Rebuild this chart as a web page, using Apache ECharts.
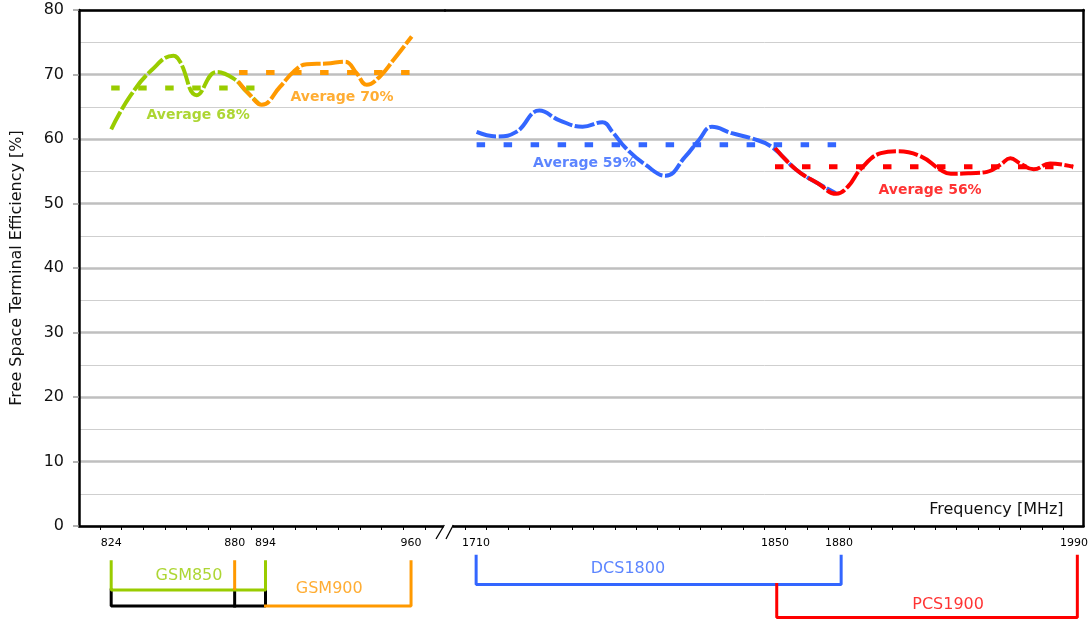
<!DOCTYPE html>
<html><head><meta charset="utf-8">
<script src="https://cdn.jsdelivr.net/npm/echarts@6/dist/echarts.min.js"></script>
<style>html,body{margin:0;padding:0;background:#fff}#c{width:1091px;height:619px}</style>
</head><body><div id="c"></div>
<script>
// ---------------- data ----------------
const gsm850Freq = [824, 832.5, 842.4, 852.2, 855.2, 862.8, 871.8, 879.4, 885.5, 891.5];
const gsm850Eff  = [61.5, 66.6, 70.7, 72.9, 72.0, 66.8, 70.4, 69.4, 67.3, 65.3];
const gsm900Freq = [881.6, 887.0, 892.3, 900.6, 906.6, 912.7, 921.7, 930.0, 935.3, 939.9, 945.9, 951.9, 960.3];
const gsm900Eff  = [68.9, 66.8, 65.3, 68.1, 70.4, 71.6, 71.7, 72.0, 70.2, 68.4, 69.7, 72.2, 75.9];
const dcsFreq = [1710.3, 1719.6, 1728.9, 1739.7, 1749.1, 1759.9, 1769.2, 1773.9, 1780.1, 1789.4, 1798.8, 1808.1, 1814.3, 1820.5, 1829.8, 1839.1, 1848.4, 1860.1, 1870.2, 1878.5];
const dcsEff  = [61.1, 60.4, 61.1, 64.4, 62.9, 61.9, 62.6, 61.1, 58.6, 56.0, 54.3, 57.3, 59.8, 61.9, 60.9, 60.1, 58.8, 55.2, 53.1, 51.6];
const pcsFreq = [1850.0, 1860.1, 1870.2, 1878.7, 1884.1, 1890.3, 1899.6, 1907.4, 1918.3, 1927.6, 1932.3, 1941.6, 1949.3, 1955.5, 1960.2, 1964.8, 1971.1, 1978.8, 1989.7];
const pcsEff  = [58.6, 55.2, 53.1, 51.5, 52.6, 55.4, 57.8, 58.1, 57.3, 55.2, 54.6, 54.7, 54.9, 56.0, 57.0, 56.2, 55.3, 56.2, 55.7];

const bandNames = ['GSM850', 'GSM900', 'DCS1800', 'PCS1900'];
const bandLow   = [824, 880, 1710, 1850];
const bandHigh  = [894, 960, 1880, 1990];
const avgValue  = [67.9, 70.3, 59.1, 55.7];
const avgFrom   = [824, 882, 1710.3, 1850];
const avgTo     = [889, 960.4, 1879.5, 1989.4];

const lowTickLabels  = [824, 880, 894, 960];
const highTickLabels = [1710, 1850, 1880, 1990];
const lowTicks  = [818.9, 828.7, 838.5, 848.4, 858.2, 868.0, 877.9, 887.7, 897.5, 907.3, 917.2, 927.0, 936.8, 946.7, 956.5, 966.3];
const highTicks = [1705,1715,1725,1735,1745,1755,1765,1775,1785,1795,1805,1815,1825,1835,1845,1855,1865,1875,1885,1895,1905,1915,1925,1935,1945,1955,1965,1975,1985];

// ---------------- layout / style ----------------
const colors = ['#99cc00', '#ff9900', '#3366ff', '#ff0000'];
const FONT = 'DejaVu Sans';
const avgLabelAt = [[863.4, 63.6], [928.7, 66.4], [1760.9, 56.3], [1922.6, 52.0]];
const bandLabelAt = [[859.3, 19.5], [922.9, 33.3], [1780.7, 13.3], [1929.8, 49]];
// bracket levels (px below bracket grid top)
const LV = { lowTop: 5.7, lowMid: 34, lowBot: 50, hiTop: 0, hiMid: 28.5, hiBot: 61.5 };

const pairs = (xs, ys) => xs.map((x, i) => [x, ys[i]]);
const curves = [pairs(gsm850Freq, gsm850Eff), pairs(gsm900Freq, gsm900Eff), pairs(dcsFreq, dcsEff), pairs(pcsFreq, pcsEff)];
const gridOf = [0, 0, 1, 1];

const series = [];
curves.forEach((d, i) => {
  series.push({
    type: 'line', xAxisIndex: gridOf[i] === 0 ? 0 : 1, yAxisIndex: gridOf[i], data: d,
    smooth: 0.45, symbol: 'none', z: 3,
    lineStyle: { color: colors[i], width: 4, type: [20, 2.5], cap: 'butt' }
  });
});
avgValue.forEach((v, i) => {
  series.push({
    type: 'line', xAxisIndex: gridOf[i] === 0 ? 0 : 1, yAxisIndex: gridOf[i],
    data: [[avgFrom[i], v], [avgTo[i], v]], symbol: 'none', z: 4,
    lineStyle: { color: colors[i], width: 5, type: [8.5, 18.5], cap: 'butt' }
  });
  series.push({
    type: 'scatter', xAxisIndex: gridOf[i] === 0 ? 0 : 1, yAxisIndex: gridOf[i],
    data: [{ value: avgLabelAt[i], name: 'Average ' + Math.round(v) + '%' }],
    symbolSize: 0, z: 5, silent: true,
    label: { show: true, position: [0, 0], align: 'center', verticalAlign: 'middle',
      formatter: '{b}', color: colors[i], fontFamily: FONT, fontWeight: 'bold', fontSize: 14 }
  });
});

// brackets
function bline(grid, pts, color) {
  series.push({
    type: 'line', xAxisIndex: grid === 0 ? 4 : 5, yAxisIndex: grid === 0 ? 2 : 3,
    data: pts, symbol: 'none', silent: true, z: color === '#000' ? 2 : 3,
    lineStyle: { color, width: 3, cap: 'square' }
  });
}
bline(0, [[bandLow[0], LV.lowTop], [bandLow[0], LV.lowMid], [bandHigh[0], LV.lowMid], [bandHigh[0], LV.lowTop]], colors[0]);
bline(0, [[bandLow[0], LV.lowMid], [bandLow[0], LV.lowBot], [bandHigh[0], LV.lowBot], [bandHigh[0], LV.lowMid]], '#000');
bline(0, [[bandLow[1], LV.lowMid], [bandLow[1], LV.lowBot]], '#000');
bline(0, [[bandLow[1], LV.lowTop], [bandLow[1], LV.lowMid - 1.5]], colors[1]);
bline(0, [[bandHigh[0], LV.lowBot], [bandHigh[1], LV.lowBot], [bandHigh[1], LV.lowTop]], colors[1]);
bline(1, [[bandLow[2], LV.hiTop], [bandLow[2], LV.hiMid], [bandHigh[2], LV.hiMid], [bandHigh[2], LV.hiTop]], colors[2]);
bline(1, [[bandLow[3], LV.hiMid], [bandLow[3], LV.hiBot], [bandHigh[3], LV.hiBot], [bandHigh[3], LV.hiTop]], colors[3]);
bandNames.forEach((n, i) => {
  const g = i < 2 ? 0 : 1;
  series.push({
    type: 'scatter', xAxisIndex: g === 0 ? 4 : 5, yAxisIndex: g === 0 ? 2 : 3,
    data: [{ value: bandLabelAt[i], name: n }], symbolSize: 0, silent: true,
    label: { show: true, position: [0, 0], align: 'center', verticalAlign: 'middle',
      formatter: '{b}', color: colors[i], fontFamily: FONT, fontSize: 16 }
  });
});

const LOW = { min: 809.4, max: 975.4 }, HIGH = { min: 1695.5, max: 1994.5 };
const borderLine = { show: true, onZero: false, lineStyle: { color: '#000', width: 2.5 } };
const bottomAxis = (r, ticks, labels, gi) => ({
  type: 'value', gridIndex: gi, min: r.min, max: r.max, position: 'bottom',
  axisLine: borderLine, splitLine: { show: false },
  axisTick: { show: true, customValues: ticks, length: 4, lineStyle: { color: '#000', width: 1 } },
  axisLabel: { show: true, customValues: labels, formatter: v => String(v), margin: 12, color: '#000', fontFamily: FONT, fontSize: 11 }
});
const topAxis = (r, gi) => ({
  type: 'value', gridIndex: gi, min: r.min, max: r.max, position: 'top',
  axisLine: borderLine, axisTick: { show: false }, axisLabel: { show: false }, splitLine: { show: false }
});
const hiddenX = (r, gi) => ({ type: 'value', gridIndex: gi, min: r.min, max: r.max, show: false });
const effAxis = (gi, pos, labels) => ({
  type: 'value', gridIndex: gi, min: 0, max: 80, interval: 10, position: pos,
  name: labels ? 'Free Space Terminal Efficiency [%]' : '', nameLocation: 'middle', nameGap: 54,
  nameTextStyle: { fontFamily: FONT, fontSize: 16, color: '#111' },
  axisLine: { show: true, lineStyle: { color: '#000', width: 2.5 } },
  axisTick: { show: labels, length: 6, lineStyle: { color: '#999', width: 1.5 } },
  axisLabel: { show: labels, margin: 15, color: '#111', fontFamily: FONT, fontSize: 16 },
  splitLine: { show: true, lineStyle: { color: '#bfbfbf', width: 2.5 } },
  minorTick: { show: false, splitNumber: 2 },
  minorSplitLine: { show: true, lineStyle: { color: '#cfcfcf', width: 1 } }
});

const option = {
  animation: false,
  backgroundColor: '#fff',
  grid: [
    { left: 79, top: 10, width: 366, height: 516 },
    { left: 445, top: 10, width: 642, height: 516 },
    { left: 79, top: 556, width: 366, height: 62 },
    { left: 445, top: 556, width: 642, height: 62 }
  ],
  xAxis: [
    bottomAxis(LOW, lowTicks, lowTickLabels, 0),
    Object.assign(bottomAxis(HIGH, highTicks, highTickLabels, 1), {
      name: 'Frequency [MHz]', nameLocation: 'end', nameGap: -20,
      nameTextStyle: { fontFamily: FONT, fontSize: 16, color: '#111', align: 'right', verticalAlign: 'bottom', padding: [0, 0, 8, 0] }
    }),
    topAxis(LOW, 0), topAxis(HIGH, 1),
    hiddenX(LOW, 2), hiddenX(HIGH, 3)
  ],
  yAxis: [
    effAxis(0, 'left', true),
    effAxis(1, 'right', false),
    { type: 'value', gridIndex: 2, min: 0, max: 62, inverse: true, show: false },
    { type: 'value', gridIndex: 3, min: 0, max: 62, inverse: true, show: false }
  ],
  series,
  graphic: [
    { type: 'rect', z: 100, shape: { x: 443.5, y: 523, width: 9, height: 6 }, style: { fill: '#fff' } },
    { type: 'line', z: 101, shape: { x1: 436, y1: 539, x2: 444.3, y2: 525 }, style: { stroke: '#000', lineWidth: 1.3 } },
    { type: 'line', z: 101, shape: { x1: 446, y1: 539, x2: 453.3, y2: 525 }, style: { stroke: '#000', lineWidth: 1.3 } }
  ]
};
const chart = echarts.init(document.getElementById('c'), null, { renderer: 'canvas' });
chart.setOption(option);
</script></body></html>
